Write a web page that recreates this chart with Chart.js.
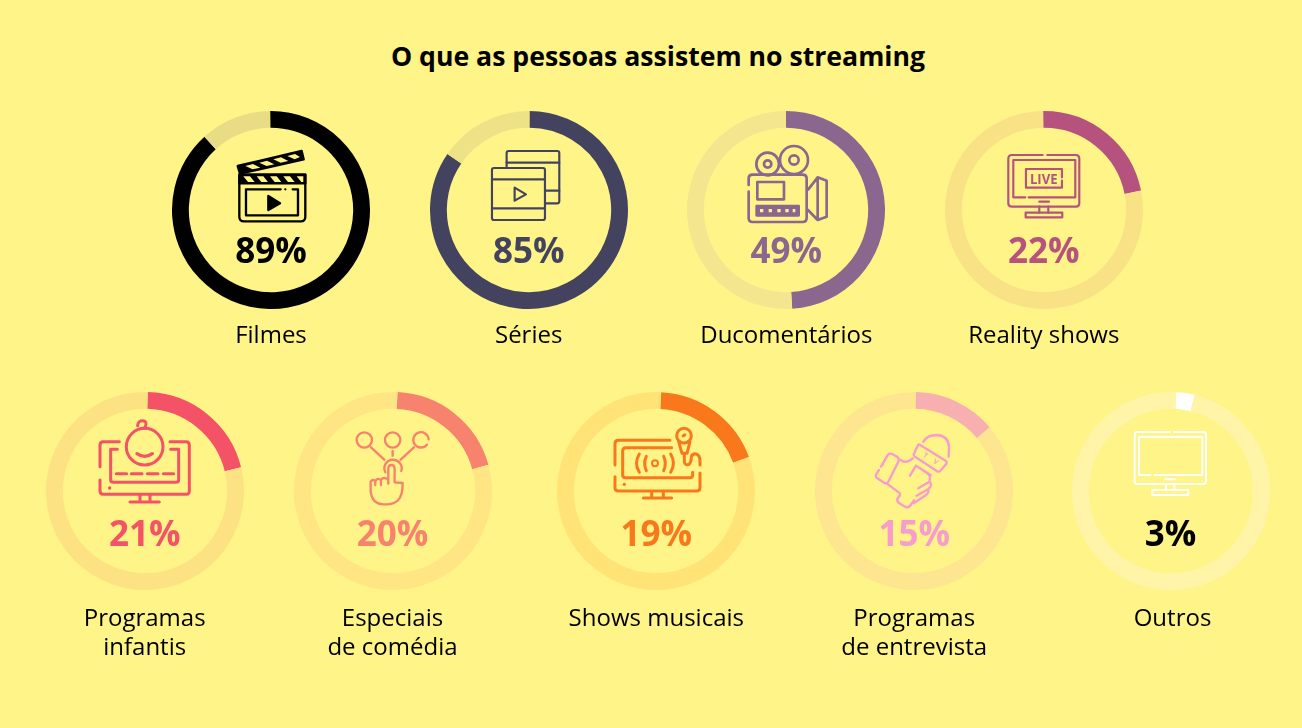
<!DOCTYPE html>
<html lang="pt">
<head>
<meta charset="utf-8">
<title>O que as pessoas assistem no streaming</title>
<script src="https://cdn.jsdelivr.net/npm/chart.js@4"></script>
<style>
    html, body { margin: 0; padding: 0; }
    body { width: 1302px; height: 728px; background: #FFF488; position: relative; overflow: hidden; font-family: "Open Sans", sans-serif; color: #000; }
    canvas { position: absolute; }
    #titulo { position: absolute; left: 0; width: 1316px; top: 37.5px; text-align: center; font-size: 26.65px; line-height: 36px; font-weight: 700; }
    .pct { position: absolute; width: 120px; margin-left: -60px; text-align: center; font-size: 35px; line-height: 40px; font-weight: 700; }
    .nome { position: absolute; width: 260px; margin-left: -130px; text-align: center; font-size: 24px; line-height: 29px; }
    #icones { position: absolute; left: 0; top: 0; }
    #icones g { fill: none; stroke-linecap: round; stroke-linejoin: round; }
</style>
</head>
<body>
<div id="titulo">O que as pessoas assistem no streaming</div>
<svg id="icones" width="1302" height="728"></svg>
<script>
const categorias = [['Filmes'], ['Séries'], ['Ducomentários'], ['Reality shows'], ['Programas', 'infantis'], ['Especiais', 'de comédia'], ['Shows musicais'], ['Programas', 'de entrevista'], ['Outros']];
const rotulos = [89, 85, 49, 22, 21, 20, 19, 15, 3];
// tamanho da fatia (a de entrevista é menor que o rótulo)
const fatias = [88.4, 84.5, 49, 22, 20.7, 20, 18.6, 13.6, 3];

const coresFatia = ['#000000', '#434360', '#8B668F', '#B5537E', '#F45266', '#F7826E', '#F9781B', '#F8AFAF', '#FFFFFF'];
const coresTexto = ['#000000', '#434360', '#8B668F', '#B5537E', '#F45266', '#F7826E', '#F9781B', '#F79CCD', '#000000'];
const coresIcone = ['#000000', '#434360', '#8B668F', '#B5537E', '#F45266', '#F7826E', '#F9781B', '#F79CCD', '#FFFFFF'];
const coresFundo = ['#E8DD84', '#EDE286', '#F4E68E', '#F8E285', '#FDE283', '#FFE583', '#FFE377', '#FDE68F', '#FFF4A8'];
const rotacoes = [-0.5, 0.3, 0, -0.5, 1.6, 2.6, 3, 1, 3];

const centrosX = [271, 528.7, 786.3, 1043.8, 144.7, 392.5, 656.3, 914.2, 1170.5];
const centrosY = [210.4, 210.4, 210.4, 210.4, 491.2, 491.2, 491.2, 491.2, 491.2];
const topoPct = [230, 230, 230, 230, 513, 513, 513, 513, 513];
const topoNome = [319, 319, 319, 319, 602, 602, 602, 602, 602];
const nomeX = [271, 528.7, 786.3, 1043.8, 144.7, 392.5, 656.3, 914.2, 1172.5];

// icones desenhados nas coordenadas dos recortes ampliados 3x: [origem x, origem y, traco, svg]
const icones = [
    [160, 100, 7, `
        <path d="M238 224H436V350Q436 364 422 364H252Q238 364 238 350Z"/>
        <path d="M238 224H436V250H238Z" fill="currentColor"/>
        <path d="M250 229H270L284 246H264ZM290 229H310L324 246H304ZM330 229H350L364 246H344ZM370 229H390L404 246H384ZM410 229H430L430 246H424Z" fill="#FFF488" stroke="none"/>
        <path d="M362 268H258V346H414V268H398"/>
        <circle cx="376" cy="268" r="3.5" fill="currentColor" stroke="none"/>
        <path d="M325 288L360 310L325 330Z" fill="currentColor"/>
        <path d="M233 198L425 153L431 178L240 221Z" fill="currentColor"/>
        <path d="M256 198L279 192L301 203L278 208ZM298 188L321 182L343 193L320 198ZM340 178L363 172L385 183L362 188ZM382 168L405 162L420 171L404 178Z" fill="#FFF488" stroke="none"/>
    `],
    [160, 100, 6.5, `
        <rect x="1040" y="153" width="158" height="157" rx="6"/>
        <path d="M1040 188H1198M1155 272H1198"/>
        <g fill="currentColor" stroke="none"><circle cx="1063" cy="172" r="5"/><circle cx="1100" cy="172" r="5"/><circle cx="1137" cy="172" r="5"/><circle cx="1174" cy="172" r="5"/><circle cx="1175" cy="291" r="5"/></g>
        <rect x="996" y="204" width="159" height="156" rx="6" fill="#FFF488"/>
        <path d="M996 238H1155M996 325H1155"/>
        <g fill="currentColor" stroke="none"><circle cx="1018" cy="222" r="5"/><circle cx="1055" cy="222" r="5"/><circle cx="1093" cy="222" r="5"/><circle cx="1130" cy="222" r="5"/><circle cx="1018" cy="341" r="5"/><circle cx="1055" cy="341" r="5"/><circle cx="1093" cy="341" r="5"/><circle cx="1130" cy="341" r="5"/></g>
        <path d="M1064 263L1098 283L1064 302Z"/>
    `],
    [680, 100, 8, `
        <circle cx="263" cy="192" r="34"/><circle cx="263" cy="192" r="11"/>
        <circle cx="342" cy="180" r="42" fill="#FFF488"/><circle cx="342" cy="180" r="14"/>
        <path d="M206 255V236Q206 224 218 224H368Q380 224 380 236V354Q380 366 368 366H218Q206 366 206 354V275"/>
        <rect x="232" y="246" width="80" height="52"/>
        <rect x="230" y="318" width="126" height="28" fill="currentColor"/>
        <path d="M240 332H250M266 332H276M292 332H302M316 332H326M338 332H346" stroke="#FFF488" stroke-width="10" stroke-linecap="butt"/>
        <path d="M385 268L413 232L440 242V350L413 360L384 330M413 232V360"/>
    `],
    [680, 100, 6.5, `
        <path d="M1088 165H996Q985 165 985 176V310Q985 320 996 320H1188Q1198 320 1198 310V176Q1198 165 1188 165H1102"/>
        <path d="M1036 292H1000V180H1186V292H1046"/>
        <path d="M1078 305H1107M1078 320V338M1105 320V338"/>
        <rect x="1037" y="338" width="110" height="14"/>
        <path d="M1146 232V207H1038V263H1146V242"/>
        <text x="1050" y="252" textLength="83" lengthAdjust="spacingAndGlyphs" font-family="Open Sans" font-weight="700" font-size="44" fill="currentColor" stroke="none">LIVE</text>
    `],
    [40, 385, 9, `
        <path d="M238 170H190Q180 170 180 180V245M180 285V318Q180 328 190 328H440Q448 328 448 318V180Q448 170 438 170H390"/>
        <path d="M232 193H212V285Q212 292 220 292H408Q416 292 416 285V193H392"/>
        <path d="M229 266H260M274 266H306M322 266H354M370 266H401"/>
        <circle cx="209" cy="309" r="5" fill="currentColor" stroke="none"/>
        <path d="M300 330V350M330 330V350M270 351H358"/>
        <circle cx="314" cy="185" r="55" fill="#FFF488"/>
        <path d="M293 122C293 103 320 103 318 118Q317 126 312 130"/>
        <path d="M291 206Q314 222 337 206" stroke-width="10"/>
    `],
    [40, 385, 7, `
        <circle cx="973" cy="165" r="23"/><circle cx="1058" cy="165" r="23"/><path d="M1161 179A23 23 0 1 1 1166 163"/>
        <path d="M993 187L1033 224M1058 198V212M1122 187L1082 224"/>
        <path d="M1036 262A26 26 0 1 1 1084 258"/>
        <path d="M1045 296V252Q1045 240 1054 240Q1064 240 1064 252V292L1088 294Q1089 330 1074 346Q1060 358 1040 358H1030Q996 358 992 318V290Q1000 280 1006 290V300M1006 288Q1014 276 1023 286V300M1023 284Q1032 274 1045 284"/>
    `],
    [550, 385, 9, `
        <path d="M360 166H205Q195 166 195 176V240M195 275V308Q195 318 205 318H440Q450 318 450 308V264"/>
        <path d="M365 188H228Q218 188 218 198V270Q218 278 228 278H420Q428 278 428 270V262"/>
        <circle cx="223" cy="298" r="5" fill="currentColor" stroke="none"/>
        <path d="M305 320V338M340 320V338M280 339H365"/>
        <circle cx="315" cy="235" r="9" stroke-width="6"/>
        <path d="M289 214Q279 235 289 257M268 207Q251 235 268 262M341 214Q351 235 341 257M362 207Q379 235 362 262"/>
        <circle cx="402" cy="152" r="22"/>
        <ellipse cx="402" cy="151" rx="8" ry="5" transform="rotate(-35 402 151)" fill="currentColor" stroke="none"/>
        <path d="M386 170L396 205H411L420 170M403 205V230Q405 243 417 238Q424 232 424 215Q428 205 438 207Q450 210 450 228V240"/>
    `],
    [870, 425, 7, `
        <path d="M147 58L228 108Q232 112 228 118L210 138Q206 142 200 138L135 95Q128 90 133 84L143 62Q145 58 147 58Z"/>
        <path d="M160 50Q172 30 200 30Q235 32 237 65L236 95"/>
        <text x="163" y="97" transform="rotate(32 163 97)" text-anchor="middle" font-family="Open Sans" font-weight="700" font-size="20" fill="currentColor" stroke="none">T</text>
        <text x="194" y="116" transform="rotate(32 194 116)" text-anchor="middle" font-family="Open Sans" font-weight="700" font-size="20" fill="currentColor" stroke="none">V</text>
        <path d="M33 125L52 92Q58 82 68 88L82 96Q90 102 85 110L55 170Q50 178 42 173L22 160Q14 154 20 146L27 135"/>
        <circle cx="40" cy="120" r="2.5" fill="currentColor" stroke="none"/>
        <path d="M92 105Q108 118 128 100M138 122L182 150M138 122L120 152M150 130L172 145Q185 155 178 170L145 190M178 170Q190 180 175 192L140 212M175 192Q178 205 165 212L132 234"/>
        <path d="M50 175L90 205M90 210L82 222Q80 230 90 236L105 245Q115 250 122 240L132 226"/>
    `],
    [1060, 385, 6, `
        <path d="M330 141H232Q224 141 224 149V289Q224 297 232 297H430Q438 297 438 289V149Q438 141 430 141H342"/>
        <path d="M272 270H237V156H427V270H283"/>
        <path d="M316 283H346M318 297V315M343 297V315"/>
        <rect x="277" y="315" width="108" height="15"/>
    `]
];

const svg = document.getElementById('icones');
let marcacao = '';
icones.forEach(function (ic, i) {
    marcacao += `<g transform="translate(${ic[0]} ${ic[1]}) scale(0.3333)" stroke="currentColor" stroke-width="${ic[2]}" style="color:${coresIcone[i]}">${ic[3]}</g>`;
});
svg.innerHTML = marcacao;

const TAMANHO = 198;

categorias.forEach(function (nome, i) {
    const canvas = document.createElement('canvas');
    canvas.width = TAMANHO;
    canvas.height = TAMANHO;
    canvas.style.left = (centrosX[i] - TAMANHO / 2) + 'px';
    canvas.style.top = (centrosY[i] - TAMANHO / 2) + 'px';
    document.body.insertBefore(canvas, svg);

    new Chart(canvas, {
        type: 'doughnut',
        data: {
            labels: [nome.join(' '), 'Restante'],
            datasets: [{
                data: [fatias[i], 100 - fatias[i]],
                backgroundColor: [coresFatia[i], coresFundo[i]],
                borderWidth: 0,
                hoverOffset: 0
            }]
        },
        options: {
            responsive: false,
            animation: false,
            cutout: '83%',
            rotation: rotacoes[i],
            plugins: {
                legend: { display: false },
                tooltip: { enabled: false }
            }
        }
    });

    const pct = document.createElement('div');
    pct.className = 'pct';
    pct.textContent = rotulos[i] + '%';
    pct.style.left = centrosX[i] + 'px';
    pct.style.top = topoPct[i] + 'px';
    pct.style.color = coresTexto[i];
    document.body.appendChild(pct);

    const legenda = document.createElement('div');
    legenda.className = 'nome';
    legenda.innerHTML = nome.join('<br>');
    legenda.style.left = nomeX[i] + 'px';
    legenda.style.top = topoNome[i] + 'px';
    document.body.appendChild(legenda);
});
</script>
</body>
</html>
